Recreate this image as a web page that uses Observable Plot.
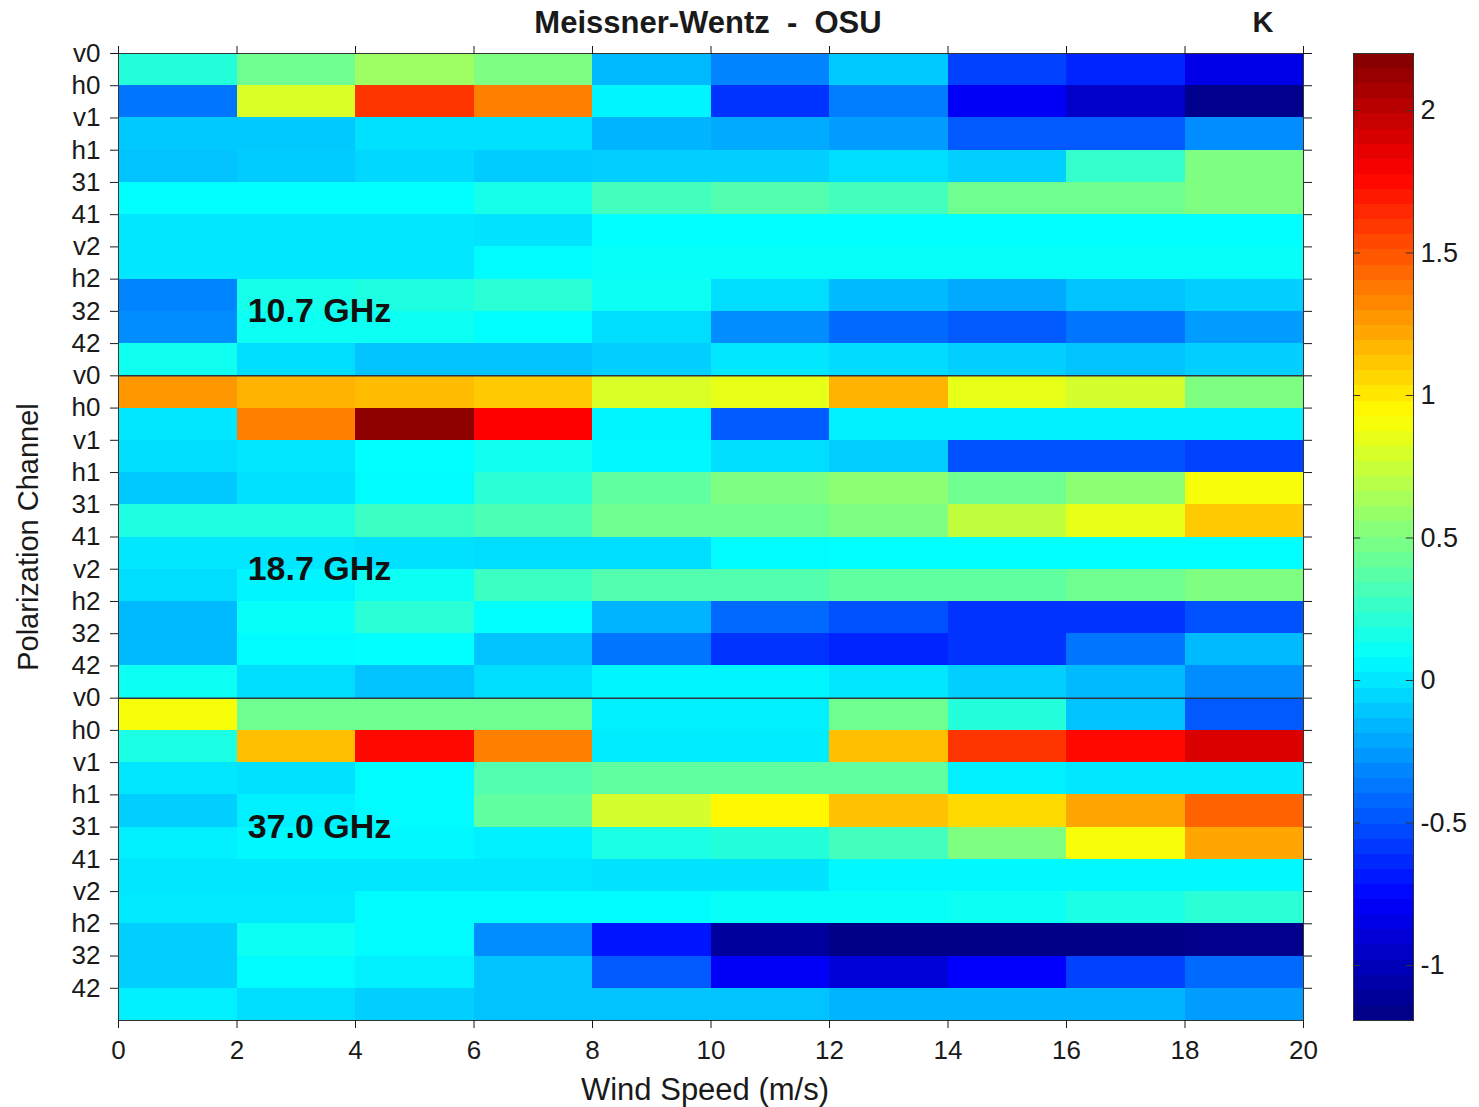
<!DOCTYPE html>
<html><head><meta charset="utf-8">
<script src="https://cdn.jsdelivr.net/npm/d3@7"></script>
<script src="https://cdn.jsdelivr.net/npm/@observablehq/plot@0.6"></script>
<style>
body{margin:0;background:#fff;font-family:"Liberation Sans",Arial,Helvetica,sans-serif;}
#wrap{position:relative;width:1479px;height:1107px;overflow:hidden;}
#main,#cbar{position:absolute;top:0;}
#main{left:0}
#cbar{left:1330px}
.lbl{position:absolute;white-space:pre;color:#1a1a1a;line-height:1;}
#title{left:708px;top:22px;transform:translate(-50%,-50%);font-size:31px;font-weight:bold;}
#kunit{left:1263px;top:22px;transform:translate(-50%,-50%);font-size:29px;font-weight:bold;}
#xlab{left:705px;top:1089px;transform:translate(-50%,-50%);font-size:31px;}
#ylab{left:28px;top:537px;transform:translate(-50%,-50%) rotate(-90deg);font-size:29px;}
</style></head><body>
<div id="wrap">
  <div id="main"></div>
  <div id="cbar"></div>
  <div class="lbl" id="title">Meissner-Wentz  -  OSU</div>
  <div class="lbl" id="kunit">K</div>
  <div class="lbl" id="xlab">Wind Speed (m/s)</div>
  <div class="lbl" id="ylab">Polarization Channel</div>
</div>
<script>
// ---- data ----
const channels = ["v0","h0","v1","h1","31","41","v2","h2","32","42"];
const bands = ["10.7 GHz","18.7 GHz","37.0 GHz"];
const bandLabelChannel = ["32","v2","31"];
const windEdges = [0,2,4,6,8,10,12,14,16,18,20];
const colorTicks = [-1,-0.5,0,0.5,1,1.5,2];
const colorDomain = [-1.193, 2.2];

// rows: channels (v0..42), columns: wind speed bins 0-2 ... 18-20
const band107 = [
  [ 0.20, 0.45, 0.60, 0.50,-0.15,-0.33,-0.10,-0.55,-0.65,-0.85],
  [-0.38, 0.80, 1.60, 1.35, 0.05,-0.60,-0.35,-0.80,-0.95,-1.15],
  [-0.10,-0.10,-0.02,-0.02,-0.17,-0.20,-0.25,-0.47,-0.47,-0.30],
  [-0.12,-0.09,-0.05,-0.09,-0.08,-0.08,-0.03,-0.08, 0.25, 0.50],
  [ 0.08, 0.08, 0.08, 0.15, 0.30, 0.35, 0.30, 0.45, 0.45, 0.50],
  [ 0.00, 0.00, 0.00,-0.01, 0.08, 0.08, 0.08, 0.08, 0.08, 0.08],
  [ 0.00, 0.00, 0.00, 0.07, 0.10, 0.10, 0.10, 0.10, 0.10, 0.10],
  [-0.33, 0.15, 0.18, 0.22, 0.12,-0.03,-0.15,-0.20,-0.12,-0.08],
  [-0.30, 0.12, 0.12, 0.08,-0.03,-0.30,-0.42,-0.47,-0.38,-0.25],
  [ 0.13,-0.03,-0.12,-0.12,-0.08, 0.00,-0.04,-0.08,-0.12,-0.08]
];
const band187 = [
  [ 1.27, 1.18, 1.15, 1.10, 0.80, 0.85, 1.18, 0.85, 0.78, 0.50],
  [ 0.00, 1.35, 2.15, 1.78, 0.05,-0.47, 0.03, 0.03, 0.03, 0.03],
  [-0.03, 0.00, 0.08, 0.13, 0.06,-0.03,-0.08,-0.50,-0.50,-0.55],
  [-0.10,-0.02, 0.07, 0.22, 0.40, 0.50, 0.55, 0.45, 0.55, 0.90],
  [ 0.18, 0.18, 0.28, 0.33, 0.45, 0.45, 0.50, 0.72, 0.85, 1.10],
  [ 0.00, 0.00,-0.02,-0.03,-0.03, 0.07, 0.08, 0.08, 0.08, 0.08],
  [-0.03, 0.05, 0.12, 0.28, 0.35, 0.35, 0.40, 0.40, 0.45, 0.50],
  [-0.15, 0.10, 0.22, 0.08,-0.17,-0.42,-0.50,-0.60,-0.60,-0.50],
  [-0.15, 0.07, 0.08,-0.12,-0.38,-0.60,-0.65,-0.60,-0.38,-0.15],
  [ 0.12,-0.03,-0.12,-0.03, 0.05, 0.05, 0.00,-0.08,-0.15,-0.30]
];
const band370 = [
  [ 0.90, 0.45, 0.45, 0.45, 0.03, 0.03, 0.45, 0.20,-0.12,-0.47],
  [ 0.17, 1.14, 1.75, 1.35, 0.02, 0.02, 1.14, 1.60, 1.75, 1.90],
  [ 0.00,-0.02, 0.07, 0.35, 0.40, 0.40, 0.40, 0.03, 0.00, 0.00],
  [-0.08, 0.03, 0.07, 0.40, 0.78, 0.95, 1.13, 1.05, 1.22, 1.45],
  [ 0.03, 0.06, 0.06, 0.03, 0.17, 0.20, 0.30, 0.50, 0.90, 1.22],
  [ 0.00, 0.00, 0.00, 0.00,-0.01,-0.01, 0.06, 0.06, 0.06, 0.06],
  [ 0.01, 0.01, 0.07, 0.07, 0.07, 0.10, 0.10, 0.12, 0.17, 0.22],
  [-0.08, 0.12, 0.07,-0.30,-0.70,-1.10,-1.17,-1.17,-1.17,-1.15],
  [-0.08, 0.07, 0.03,-0.12,-0.47,-0.80,-0.90,-0.78,-0.55,-0.42],
  [ 0.03,-0.03,-0.08,-0.12,-0.12,-0.12,-0.17,-0.17,-0.17,-0.25]
];

// ---- build table ----
const cells = [];
[band107, band187, band370].forEach((band, g) =>
  band.forEach((r, i) => r.forEach((v, j) =>
    cells.push({row: g * channels.length + i, x1: windEdges[j], x2: windEdges[j + 1], v}))));
const nRows = bands.length * channels.length;
const bandLabels = bands.map((b, g) => ({text: b, row: g * channels.length + channels.indexOf(bandLabelChannel[g]), x: windEdges[1] + 0.18}));

// jet colormap
const [lo, hi] = colorDomain;
const jetStops = [0, 0.125, 0.375, 0.625, 0.875, 1];
const jetColors = ["#000080", "#0000ff", "#00ffff", "#ffff00", "#ff0000", "#800000"];
const colorScale = {type: "linear", domain: jetStops.map(t => lo + t * (hi - lo)), range: jetColors, interpolate: "rgb", clamp: true};

const H = 1107;
const font = {fontFamily: "Liberation Sans, Arial, Helvetica, sans-serif", fontSize: "26px", color: "#1a1a1a", background: "transparent"};

const main = Plot.plot({
  width: 1330, height: H,
  marginLeft: 118, marginRight: 27, marginTop: 53, marginBottom: 87,
  style: font,
  x: {domain: [windEdges[0], windEdges[windEdges.length - 1]]},
  y: {domain: [0, nRows], reverse: true},
  color: colorScale,
  marks: [
    Plot.rect(cells, {x1: "x1", x2: "x2", y1: "row", y2: d => d.row + 1, fill: "v", shapeRendering: "crispEdges"}),
    Plot.ruleY(d3.range(1, bands.length).map(g => g * channels.length), {stroke: "#2b3440", strokeWidth: 1.5}),
    Plot.frame({stroke: "#333", strokeWidth: 1}),
    Plot.axisX({anchor: "bottom", ticks: windEdges, tickSize: 8, tickPadding: 12, tickFormat: d => String(d), label: null}),
    Plot.axisX({anchor: "top", ticks: windEdges, tickSize: 8, tickFormat: () => "", label: null}),
    Plot.axisY({anchor: "left", ticks: d3.range(nRows), tickSize: 8, tickPadding: 10, tickFormat: i => channels[i % channels.length], label: null}),
    Plot.axisY({anchor: "right", ticks: d3.range(nRows), tickSize: 8, tickFormat: () => "", label: null}),
    Plot.text(bandLabels, {x: "x", y: "row", text: "text", textAnchor: "start", fontSize: 34, fontWeight: "bold", fill: "#111"})
  ]
});
document.getElementById("main").append(main);

const nSteps = 64;
const step = (hi - lo) / nSteps;
const ramp = d3.range(nSteps).map(i => lo + i * step);
const cbar = Plot.plot({
  width: 149, height: H,
  marginLeft: 23, marginRight: 66, marginTop: 53, marginBottom: 87,
  style: {...font, fontSize: "27px"},
  x: {domain: [0, 1], axis: null},
  y: {domain: colorDomain},
  color: colorScale,
  marks: [
    Plot.rect(ramp, {x1: 0, x2: 1, y1: d => d, y2: d => d + step, fill: d => d + step / 2, shapeRendering: "crispEdges"}),
    Plot.ruleY(colorTicks, {x1: 0, x2: 0.12, stroke: "#333"}),
    Plot.ruleY(colorTicks, {x1: 0.88, x2: 1, stroke: "#333"}),
    Plot.frame({stroke: "#333"}),
    Plot.axisY({anchor: "right", ticks: colorTicks, tickSize: 0, tickPadding: 7, tickFormat: d => String(d), label: null})
  ]
});
document.getElementById("cbar").append(cbar);
</script>
</body></html>
